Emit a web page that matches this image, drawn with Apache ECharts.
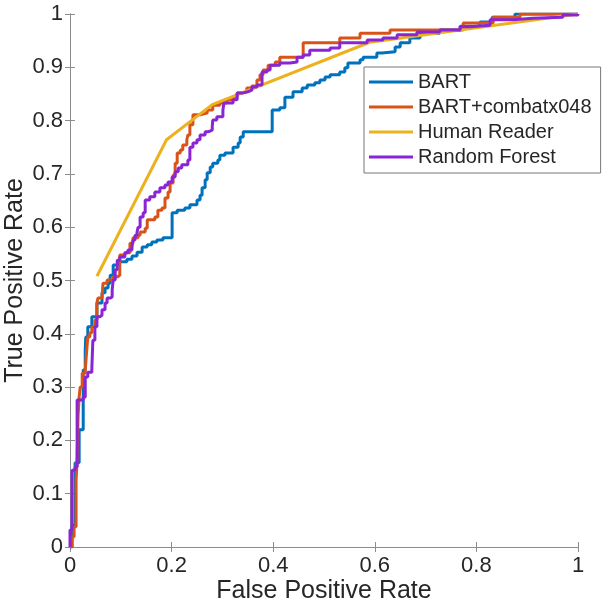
<!DOCTYPE html>
<html>
<head>
<meta charset="utf-8">
<script src="https://cdn.jsdelivr.net/npm/echarts@6/dist/echarts.min.js"></script>
<style>
  html, body { margin: 0; padding: 0; background: #fff; }
  #roc { width: 606px; height: 606px; }
</style>
</head>
<body>
<div id="roc"></div>
<script>
// ROC curves (fpr, tpr at the top of each step)
var bartFpr = [0, 0.004, 0.010, 0.018, 0.026, 0.026, 0.030, 0.031, 0.035, 0.043, 0.053, 0.063, 0.069, 0.075, 0.079, 0.085, 0.094, 0.112, 0.122, 0.132, 0.142, 0.152, 0.161, 0.171, 0.183, 0.201, 0.211, 0.226, 0.236, 0.250, 0.256, 0.260, 0.266, 0.270, 0.276, 0.281, 0.291, 0.295, 0.305, 0.321, 0.331, 0.335, 0.341, 0.398, 0.413, 0.423, 0.439, 0.457, 0.467, 0.482, 0.492, 0.502, 0.512, 0.531, 0.541, 0.547, 0.571, 0.577, 0.604, 0.614, 0.640, 0.650, 0.669, 0.689, 0.728, 0.768, 0.807, 0.831, 0.876, 1];
var bartTpr = [0, 0.041, 0.158, 0.220, 0.289, 0.332, 0.370, 0.394, 0.413, 0.432, 0.458, 0.477, 0.486, 0.495, 0.510, 0.529, 0.535, 0.540, 0.546, 0.553, 0.563, 0.567, 0.572, 0.576, 0.580, 0.627, 0.632, 0.636, 0.642, 0.651, 0.660, 0.674, 0.689, 0.702, 0.713, 0.720, 0.726, 0.735, 0.739, 0.750, 0.758, 0.769, 0.779, 0.820, 0.824, 0.844, 0.854, 0.861, 0.867, 0.871, 0.876, 0.882, 0.886, 0.891, 0.899, 0.908, 0.914, 0.919, 0.927, 0.929, 0.938, 0.946, 0.955, 0.964, 0.970, 0.977, 0.985, 0.994, 1, 1];

var combatFpr = [0, 0.004, 0.008, 0.012, 0.014, 0.016, 0.018, 0.020, 0.024, 0.030, 0.033, 0.035, 0.039, 0.043, 0.049, 0.053, 0.055, 0.063, 0.065, 0.073, 0.085, 0.094, 0.098, 0.108, 0.118, 0.124, 0.134, 0.138, 0.148, 0.152, 0.167, 0.173, 0.181, 0.187, 0.193, 0.197, 0.203, 0.207, 0.211, 0.217, 0.222, 0.230, 0.232, 0.236, 0.242, 0.256, 0.270, 0.281, 0.295, 0.309, 0.319, 0.329, 0.339, 0.348, 0.358, 0.368, 0.374, 0.380, 0.390, 0.404, 0.413, 0.459, 0.531, 0.571, 0.630, 0.774, 0.833, 0.886, 1];
var combatTpr = [0, 0.019, 0.038, 0.126, 0.163, 0.248, 0.281, 0.300, 0.326, 0.332, 0.370, 0.394, 0.402, 0.413, 0.426, 0.458, 0.467, 0.469, 0.495, 0.501, 0.507, 0.510, 0.548, 0.552, 0.570, 0.580, 0.585, 0.591, 0.598, 0.614, 0.619, 0.632, 0.636, 0.655, 0.666, 0.683, 0.698, 0.720, 0.739, 0.745, 0.754, 0.764, 0.773, 0.792, 0.811, 0.814, 0.820, 0.829, 0.833, 0.839, 0.844, 0.852, 0.854, 0.861, 0.865, 0.876, 0.886, 0.895, 0.904, 0.910, 0.919, 0.946, 0.955, 0.964, 0.970, 0.983, 0.994, 1, 1];

var humanFpr = [0.053, 0.19, 0.28, 0.59, 1];
var humanTpr = [0.508, 0.764, 0.830, 0.947, 1];

var forestFpr = [0, 0, 0.004, 0.010, 0.014, 0.026, 0.030, 0.035, 0.043, 0.045, 0.049, 0.053, 0.059, 0.063, 0.069, 0.073, 0.079, 0.083, 0.085, 0.089, 0.093, 0.098, 0.108, 0.114, 0.122, 0.124, 0.128, 0.132, 0.134, 0.138, 0.144, 0.148, 0.157, 0.167, 0.177, 0.187, 0.193, 0.201, 0.207, 0.213, 0.220, 0.232, 0.236, 0.242, 0.250, 0.256, 0.266, 0.272, 0.280, 0.281, 0.289, 0.301, 0.303, 0.321, 0.329, 0.341, 0.350, 0.358, 0.368, 0.378, 0.388, 0.394, 0.413, 0.433, 0.447, 0.459, 0.472, 0.512, 0.531, 0.585, 0.616, 0.644, 0.683, 0.728, 0.768, 0.787, 0.827, 0.872, 0.911, 0.970, 1];
var forestTpr = [0, 0.032, 0.144, 0.150, 0.276, 0.281, 0.319, 0.328, 0.336, 0.388, 0.413, 0.432, 0.435, 0.445, 0.458, 0.467, 0.469, 0.482, 0.501, 0.520, 0.538, 0.544, 0.552, 0.557, 0.563, 0.576, 0.585, 0.591, 0.600, 0.619, 0.627, 0.651, 0.657, 0.666, 0.674, 0.679, 0.685, 0.694, 0.704, 0.711, 0.717, 0.726, 0.750, 0.758, 0.764, 0.773, 0.779, 0.782, 0.788, 0.801, 0.807, 0.820, 0.833, 0.839, 0.852, 0.854, 0.857, 0.863, 0.867, 0.891, 0.895, 0.904, 0.908, 0.910, 0.919, 0.923, 0.932, 0.936, 0.946, 0.951, 0.955, 0.961, 0.966, 0.970, 0.976, 0.979, 0.989, 0.992, 0.994, 0.998, 1];

var seriesNames = ['BART', 'BART+combatx048', 'Human Reader', 'Random Forest'];
var seriesColors = ['#0072bd', '#d95319', '#edb120', '#8a25d6'];

function zip(xs, ys) {
    return xs.map(function (x, i) { return [x, ys[i]]; });
}

var axisGray = '#8c8c8c';
var labelFont = { fontFamily: 'Liberation Sans', fontSize: 22, color: '#262626' };

var chart = echarts.init(document.getElementById('roc'));
var option = {
    animation: false,
    backgroundColor: '#fff',
    color: seriesColors,
    grid: { left: 70, right: 28, top: 14, bottom: 59, outerBoundsMode: 'none' },
    legend: {
        orient: 'vertical',
        left: 364,
        top: 67,
        padding: [5, 9, 6, 5],
        itemGap: 5,
        itemWidth: 44,
        itemHeight: 3,
        icon: 'rect',
        borderColor: '#777',
        borderWidth: 1,
        backgroundColor: '#fff',
        textStyle: { fontFamily: 'Liberation Sans', fontSize: 20, lineHeight: 20, color: '#262626' },
        data: seriesNames
    },
    xAxis: [{
        type: 'value', min: 0, max: 1, interval: 0.2,
        name: 'False Positive Rate', nameLocation: 'middle', nameGap: 32, nameMoveOverlap: false,
        nameTextStyle: { fontFamily: 'Liberation Sans', fontSize: 25, color: '#262626' },
        axisLine: { show: true, lineStyle: { color: axisGray, width: 1 } },
        axisTick: { inside: true, length: 5, lineStyle: { color: axisGray } },
        axisLabel: Object.assign({ margin: 8 }, labelFont),
        splitLine: { show: false }
    }, {
        type: 'value', min: 0, max: 1, interval: 0.2, position: 'top',
        axisLine: { show: true, lineStyle: { color: axisGray, width: 1 } },
        axisTick: { inside: true, length: 5, lineStyle: { color: axisGray } },
        axisLabel: { show: false },
        splitLine: { show: false }
    }],
    yAxis: [{
        type: 'value', min: 0, max: 1, interval: 0.1,
        name: 'True Positive Rate', nameLocation: 'middle', nameGap: 42, nameMoveOverlap: false,
        nameTextStyle: { fontFamily: 'Liberation Sans', fontSize: 25, color: '#262626' },
        axisLine: { show: true, lineStyle: { color: axisGray, width: 1 } },
        axisTick: { inside: true, length: 5, lineStyle: { color: axisGray } },
        axisLabel: Object.assign({ margin: 7 }, labelFont),
        splitLine: { show: false }
    }, {
        type: 'value', min: 0, max: 1, interval: 0.1, position: 'right',
        axisLine: { show: true, lineStyle: { color: axisGray, width: 1 } },
        axisTick: { inside: true, length: 5, lineStyle: { color: axisGray } },
        axisLabel: { show: false },
        splitLine: { show: false }
    }],
    series: [
        { name: seriesNames[0], type: 'line', step: 'end', symbol: 'none', data: zip(bartFpr, bartTpr), lineStyle: { width: 3 } },
        { name: seriesNames[1], type: 'line', step: 'end', symbol: 'none', data: zip(combatFpr, combatTpr), lineStyle: { width: 3 } },
        { name: seriesNames[2], type: 'line', symbol: 'none', data: zip(humanFpr, humanTpr), lineStyle: { width: 3 } },
        { name: seriesNames[3], type: 'line', step: 'end', symbol: 'none', data: zip(forestFpr, forestTpr), lineStyle: { width: 3 } }
    ]
};
chart.setOption(option);
</script>
</body>
</html>
